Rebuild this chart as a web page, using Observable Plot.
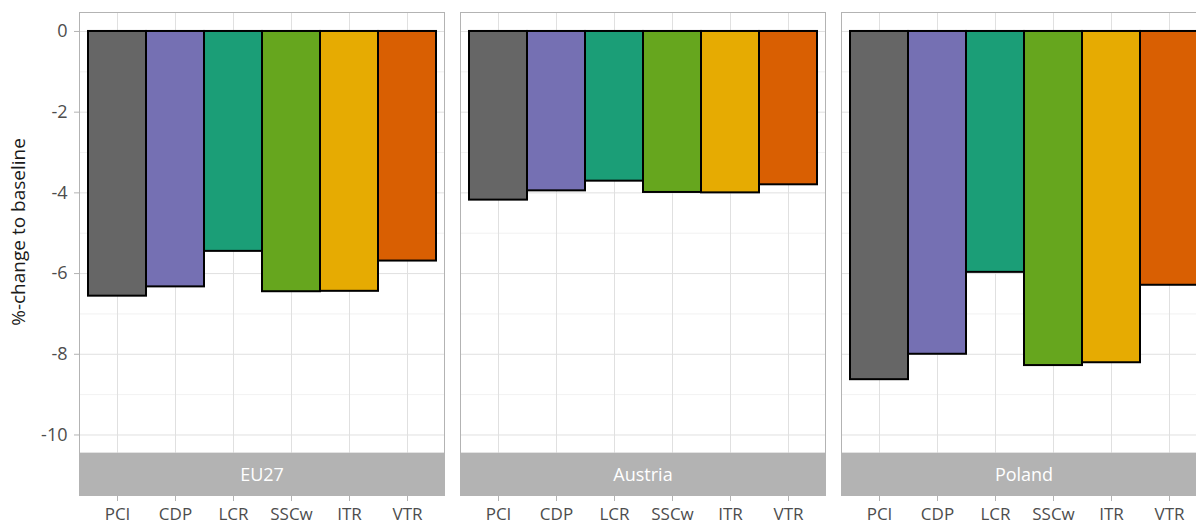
<!DOCTYPE html>
<html>
<head>
<meta charset="utf-8">
<script src="https://cdn.jsdelivr.net/npm/d3@7"></script>
<script src="https://cdn.jsdelivr.net/npm/@observablehq/plot@0.6"></script>
<style>
  html, body { margin: 0; padding: 0; background: #fff; overflow: hidden; }
  #chart { width: 1196px; height: 524px; overflow: hidden; }
  #chart svg { max-width: none !important; }
</style>
</head>
<body>
<div id="chart"></div>
<script>
const regions = ["EU27", "Austria", "Poland"];
const measures = ["PCI", "CDP", "LCR", "SSCw", "ITR", "VTR"];
const colors = ["#666666", "#7570b3", "#1b9e77", "#66a61e", "#e6ab02", "#d95f02"];
const valuesEU27 = [-6.56, -6.33, -5.45, -6.45, -6.44, -5.69];
const valuesAustria = [-4.18, -3.95, -3.71, -3.99, -4.00, -3.80];
const valuesPoland = [-8.63, -8.00, -5.97, -8.28, -8.21, -6.29];
const yTicks = [-10, -8, -6, -4, -2, 0];
const yMinor = [-9, -7, -5, -3, -1];
const yLabel = "%-change to baseline";

const seriesByRegion = [valuesEU27, valuesAustria, valuesPoland];
const data = [];
regions.forEach((r, ri) => measures.forEach((m, mi) => data.push({region: r, measure: m, value: seriesByRegion[ri][mi]})));

const panelTop = 0.47, panelBottom = -10.45, stripBottom = -11.5;

const plot = Plot.plot({
  width: 1206,
  height: 524,
  marginLeft: 79,
  marginRight: 0,
  marginTop: 12,
  marginBottom: 29,
  style: {fontFamily: "'Open Sans', sans-serif", fontSize: "16px", background: "#fff", maxWidth: "none"},
  fx: {domain: regions, paddingInner: 0.042, paddingOuter: 0, axis: null, label: null},
  x: {domain: measures, paddingInner: 0, paddingOuter: 0.1, label: null},
  y: {domain: [stripBottom, panelTop], label: null},
  color: {domain: measures, range: colors},
  marks: [
    Plot.ruleY(yMinor, {stroke: "#eeeeee", strokeWidth: 0.8}),
    Plot.ruleY(yTicks, {stroke: "#e0e0e0", strokeWidth: 1}),
    Plot.ruleX(measures, {x: d => d, y1: panelBottom, y2: panelTop, stroke: "#e0e0e0", strokeWidth: 1}),
    Plot.barY(data, {fx: "region", x: "measure", y: "value", fill: "measure", stroke: "black", strokeWidth: 2, inset: 0}),
    Plot.rect([0], {y1: stripBottom, y2: panelBottom, fill: "#b3b3b3"}),
    Plot.frame({stroke: "#b3b3b3", strokeWidth: 1}),
    Plot.text(regions, {fx: d => d, text: d => d, y: (panelBottom + stripBottom) / 2, dy: 1, fill: "white", fontSize: 18}),
    Plot.axisY(yTicks, {tickSize: 5, tickPadding: 7, stroke: "#b3b3b3", fill: "#4d4d4d", fontSize: 18, tickFormat: d => String(d), label: null}),
    Plot.axisX({tickSize: 6, tickPadding: 6, stroke: "#b3b3b3", fill: "#4d4d4d", fontSize: 17, label: null})
  ]
});

const svg = d3.select(plot);
svg.append("text")
  .attr("transform", "translate(20,232) rotate(-90)")
  .attr("text-anchor", "middle")
  .attr("dominant-baseline", "middle")
  .attr("fill", "#1a1a1a")
  .attr("font-size", 19)
  .text(yLabel);

document.getElementById("chart").appendChild(plot);
</script>
</body>
</html>
